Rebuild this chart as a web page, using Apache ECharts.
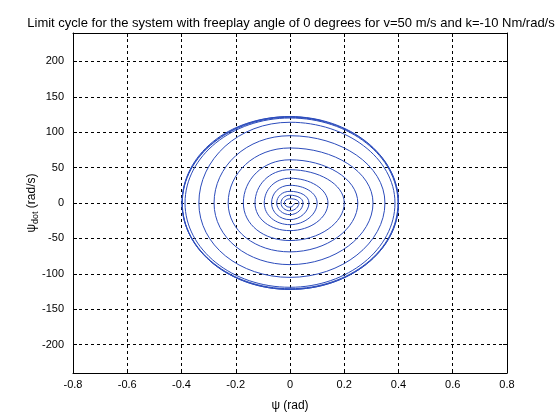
<!DOCTYPE html>
<html>
<head>
<meta charset="utf-8">
<script src="https://cdn.jsdelivr.net/npm/echarts@6/dist/echarts.min.js"></script>
<style>
  html, body { margin: 0; padding: 0; background: #fff; }
  #chart { width: 560px; height: 420px; }
</style>
</head>
<body>
<div id="chart"></div>
<script>
// axis crossings of each turn of the spiral, inside -> outside
// a turn goes right -> bottom -> left -> top (clockwise)
const rightX  = [0.018, 0.033, 0.048, 0.070, 0.10, 0.14, 0.20, 0.25, 0.306, 0.35, 0.387, 0.398, 0.40, 0.40]
const bottomY = [-6, -11, -16.5, -23.5, -30.6, -39, -53, -69, -87, -105, -119, -121, -122, -122]
const leftX   = [-0.021, -0.033, -0.049, -0.068, -0.095, -0.129, -0.172, -0.228, -0.28, -0.336, -0.387, -0.397, -0.398, -0.398]
const topY    = [6, 11, 16.5, 25, 35, 47, 61, 77.7, 95, 114, 120, 121, 122, 122]
// where the trajectory stops on the limit cycle
const endPoint = [0.12, 116]

const yTicks = [-200, -150, -100, -50, 0, 50, 100, 150, 200]

const titleText = 'Limit cycle for the system with freeplay angle of 0 degrees for v=50 m/s and k=-10 Nm/rad/s'

let path = []
for (let k = 0; k < rightX.length; k++) {
    path.push([rightX[k], 0])
    path.push([0, bottomY[k]])
    path.push([leftX[k], 0])
    path.push([0, topY[k]])
}
path.push(endPoint)

const font = 'Liberation Sans'
const gridLine = { show: true, lineStyle: { color: '#000', type: [3, 3], width: 1 } }
const boxLine = { show: true, onZero: false, lineStyle: { color: '#000', width: 1 } }
const tick = { show: true, inside: true, length: 4, lineStyle: { color: '#000' } }

const myChart = echarts.init(document.getElementById('chart'), null, { renderer: 'canvas' })
myChart.setOption({
    backgroundColor: '#fff',
    animation: false,
    textStyle: { fontFamily: font },
    title: {
        text: titleText,
        left: 286,
        top: 12,
        textAlign: 'center',
        textStyle: { fontFamily: font, fontSize: 13, fontWeight: 'normal', color: '#000' }
    },
    grid: { left: 73, right: 53, top: 33, bottom: 47, containLabel: false },
    xAxis: [
        {
            type: 'value',
            min: -0.8,
            max: 0.8,
            interval: 0.2,
            name: 'ψ (rad)',
            nameLocation: 'middle',
            nameGap: 27,
            nameMoveOverlap: false,
            nameTextStyle: { fontFamily: font, fontSize: 12, color: '#000' },
            axisLine: boxLine,
            axisTick: tick,
            axisLabel: { color: '#000', fontSize: 11, margin: 6, fontFamily: font },
            splitLine: gridLine
        },
        {
            type: 'value',
            position: 'top',
            min: -0.8,
            max: 0.8,
            interval: 0.2,
            axisLine: boxLine,
            axisTick: tick,
            axisLabel: { show: false },
            splitLine: { show: false }
        }
    ],
    yAxis: [
        {
            type: 'value',
            min: -240,
            max: 240,
            name: '{a|ψ}{s|dot}{a| (rad/s)}',
            nameLocation: 'middle',
            nameGap: 34,
            nameMoveOverlap: false,
            nameTextStyle: {
                color: '#000',
                rich: {
                    a: { fontFamily: font, fontSize: 12, color: '#000', lineHeight: 14 },
                    s: { fontFamily: font, fontSize: 9, color: '#000', padding: [7, 0, 0, 0], lineHeight: 14 }
                }
            },
            axisLine: boxLine,
            axisTick: Object.assign({ customValues: yTicks }, tick),
            axisLabel: { color: '#000', fontSize: 11, margin: 9, fontFamily: font, customValues: yTicks },
            splitLine: gridLine
        },
        {
            type: 'value',
            position: 'right',
            min: -240,
            max: 240,
            axisLine: boxLine,
            axisTick: Object.assign({ customValues: yTicks }, tick),
            axisLabel: { show: false },
            splitLine: { show: false }
        }
    ],
    series: [
        {
            type: 'line',
            data: path,
            xAxisIndex: 0,
            yAxisIndex: 0,
            smooth: 0.55,
            showSymbol: false,
            symbol: 'none',
            lineStyle: { color: '#2c4cbc', width: 1 }
        }
    ]
})
</script>
</body>
</html>
